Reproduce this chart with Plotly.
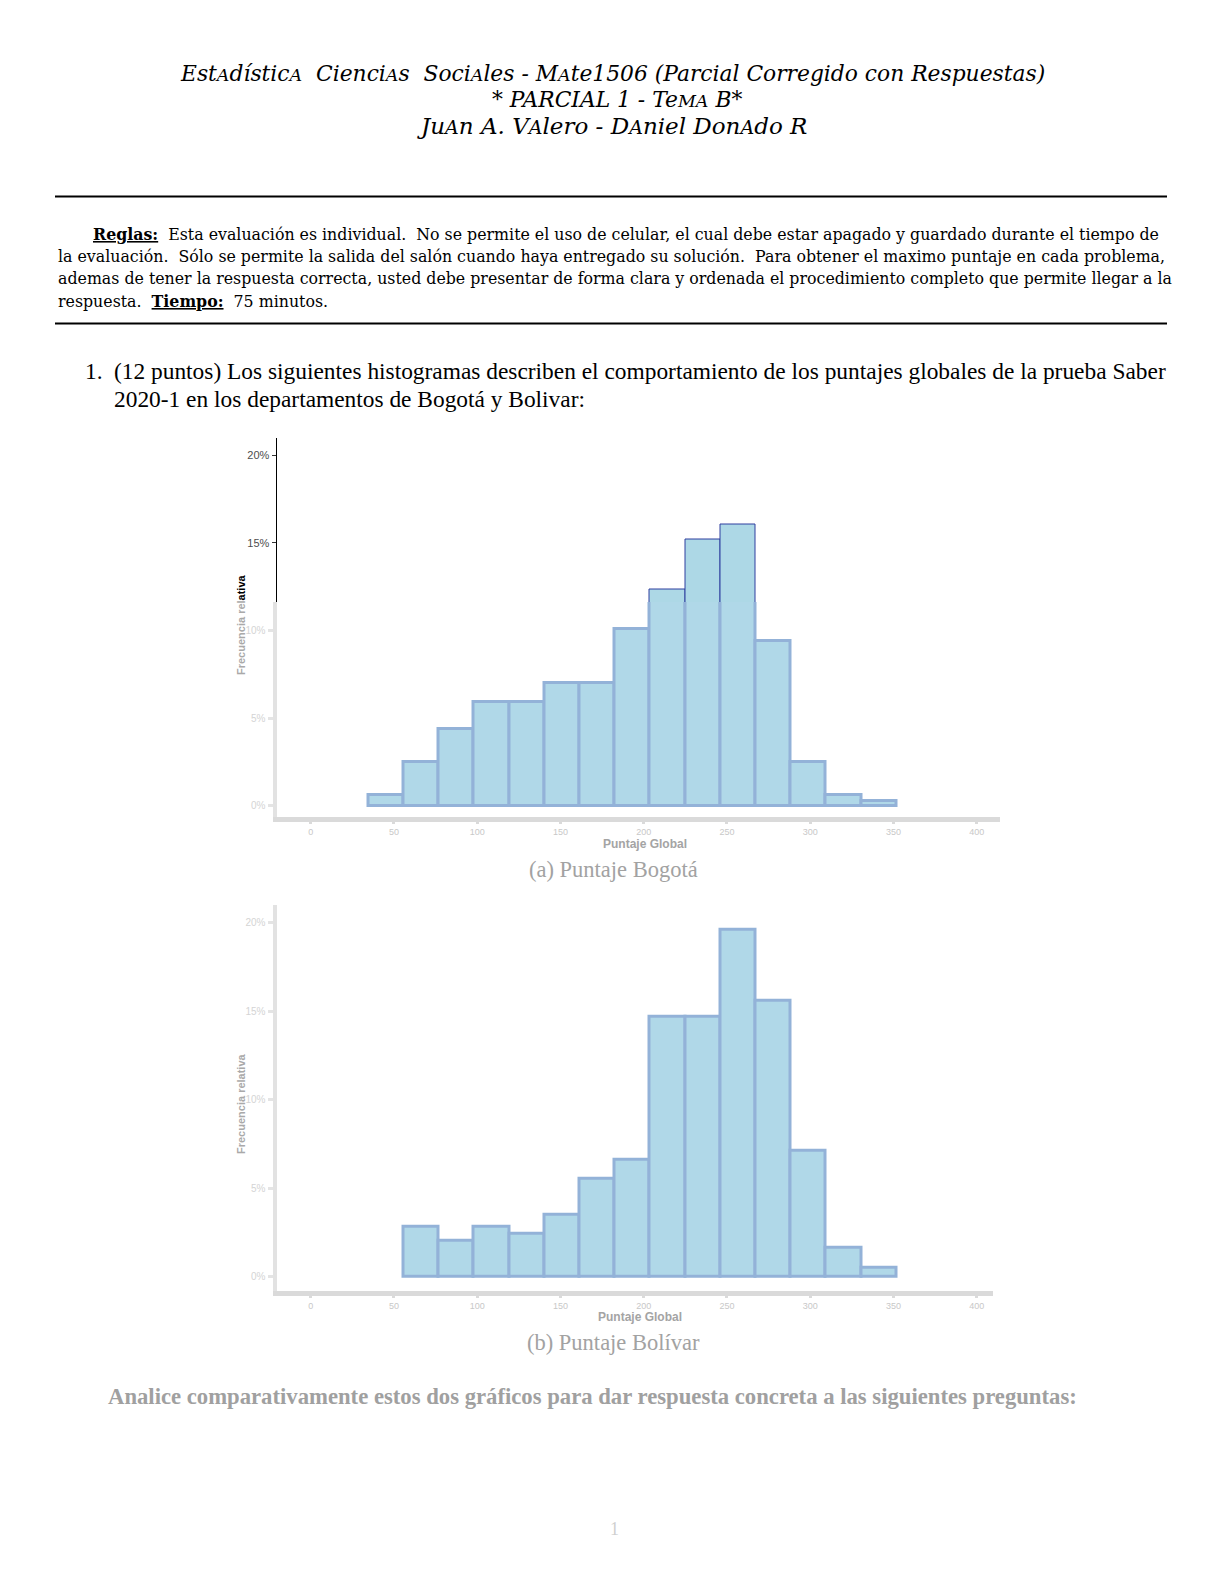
import plotly.graph_objects as go

# The page has an 8px body margin, so the figure is drawn 16px smaller
# and page coordinates are shifted by 8px.
PAGE_OFF = 8
W, H = 1224 - 2 * PAGE_OFF, 1584 - 2 * PAGE_OFF


def px(x):
    return (x - PAGE_OFF) / W


def py(y):
    return 1 - (y - PAGE_OFF) / H


# ---------------- data ----------------
bin_left = [34.6, 55.7, 76.9, 98.0, 119.2, 140.3, 161.4, 182.6,
            203.7, 224.9, 246.0, 267.1, 288.3, 309.4, 330.6]
bin_width = 21.14
pct_bogota = [0.6, 2.5, 4.4, 5.9, 5.9, 7.0, 7.0, 10.1,
              12.35, 15.2, 16.05, 9.4, 2.5, 0.6, 0.3]
pct_bolivar = [None, 2.8, 2.0, 2.8, 2.4, 3.5, 5.5, 6.6,
               14.7, 14.7, 19.6, 15.6, 7.1, 1.6, 0.5]
x_ticks = [0, 50, 100, 150, 200, 250, 300, 350, 400]
y_ticks = [0, 5, 10, 15, 20]
y_tick_text = [f"{v}%" for v in y_ticks]

centers = [l + bin_width / 2 for l in bin_left]

# ---------------- layout geometry (pixels of the page) ----------------
X_LEFT, X_RIGHT, X_RIGHT2 = 276.5, 1000, 993
X_RANGE = [-20.5, 414.0]
X_RANGE2 = [-20.5, 409.8]
# chart 1: 0% at 805.8 px, 17.54 px per percent
C1_TOP, C1_SPLIT, C1_BOT = 437.5, 602, 817
C1_ZERO, C1_SCALE = 805.8, 17.54
c1_hi = (C1_ZERO - C1_TOP) / C1_SCALE
c1_split = (C1_ZERO - C1_SPLIT) / C1_SCALE
c1_lo = (C1_ZERO - C1_BOT) / C1_SCALE
# chart 2: 0% at 1276.5 px, 17.7 px per percent
C2_TOP, C2_BOT = 904.8, 1291
C2_ZERO, C2_SCALE = 1276.5, 17.7
c2_hi = (C2_ZERO - C2_TOP) / C2_SCALE
c2_lo = (C2_ZERO - C2_BOT) / C2_SCALE

FILL = "#b0d8e8"
BLUR_LINE = "#93b2d8"
CRISP_LINE = "#2f3f9f"
BLUR_AXIS = "#dadada"
BLUR_TICKTXT = "#c8c8c8"

fig = go.Figure()

# Bogotá - lower (blurred look)
fig.add_trace(go.Bar(x=centers, y=pct_bogota, width=bin_width,
                     marker=dict(color=FILL, line=dict(color=BLUR_LINE, width=3)),
                     xaxis="x", yaxis="y", hoverinfo="skip"))
# Bogotá - upper (crisp part)
fig.add_trace(go.Bar(x=centers, y=pct_bogota, width=bin_width,
                     marker=dict(color="#add8e6", line=dict(color=CRISP_LINE, width=1)),
                     xaxis="x", yaxis="y3", hoverinfo="skip"))
# Bolívar
fig.add_trace(go.Bar(x=centers, y=pct_bolivar, width=bin_width,
                     marker=dict(color=FILL, line=dict(color=BLUR_LINE, width=3)),
                     xaxis="x2", yaxis="y2", hoverinfo="skip"))

blur_x = dict(tickvals=x_ticks, ticks="outside", ticklen=2,
              tickwidth=3, tickcolor=BLUR_AXIS, showline=True, linecolor=BLUR_AXIS,
              linewidth=5, showgrid=False, zeroline=False,
              tickfont=dict(family="Liberation Sans", size=9, color=BLUR_TICKTXT))
blur_y = dict(ticks="outside", ticklen=5, tickwidth=3, tickcolor="#e4e4e4",
              showline=True, linecolor="#e2e2e2", linewidth=4, showgrid=False,
              zeroline=False,
              tickfont=dict(family="Liberation Sans", size=10, color="#d4d4d4"))

fig.update_layout(
    width=W, height=H, margin=dict(l=0, r=0, t=0, b=0),
    paper_bgcolor="white", plot_bgcolor="white", showlegend=False,
    bargap=0,
    xaxis=dict(domain=[px(X_LEFT), px(X_RIGHT)], range=X_RANGE, anchor="y", **blur_x),
    yaxis=dict(domain=[py(C1_BOT), py(C1_SPLIT)], range=[c1_lo, c1_split], anchor="x",
               tickvals=y_ticks[:3], ticktext=y_tick_text[:3], **blur_y),
    yaxis3=dict(domain=[py(C1_SPLIT), py(C1_TOP)], range=[c1_split, c1_hi], anchor="x",
                tickvals=y_ticks[3:], ticktext=y_tick_text[3:], ticks="outside",
                ticklen=4, tickwidth=1, tickcolor="#333333", showline=True,
                linecolor="black", linewidth=1, showgrid=False, zeroline=False,
                tickfont=dict(family="Liberation Sans", size=11, color="#4d4d4d")),
    xaxis2=dict(domain=[px(X_LEFT), px(X_RIGHT2)], range=X_RANGE2, anchor="y2", **blur_x),
    yaxis2=dict(domain=[py(C2_BOT), py(C2_TOP)], range=[c2_lo, c2_hi], anchor="x2",
                tickvals=y_ticks, ticktext=y_tick_text, **blur_y),
)

ann = []


def text(x, y, s, size, family="Liberation Serif", color="black", xanchor="center", angle=0):
    ann.append(dict(x=px(x), y=py(y), xref="paper", yref="paper", text=s,
                    showarrow=False, xanchor=xanchor, yanchor="middle", textangle=angle,
                    font=dict(family=family, size=size, color=color)))


def sc(s, size=17.5):
    return f"<span style='font-size:{size}px'>{s}</span>"


# header
HF = "DejaVu Serif"
text(612, 73, f"<i>Est{sc('A')}dístic{sc('A')}  Cienci{sc('A')}s  Soci{sc('A')}les - M{sc('A')}te1506 (Parcial Corregido con Respuestas)</i>", 21.8, HF)
text(617, 99, f"<i>* PARCIAL 1 - Te{sc('MA')} B*</i>", 21.8, HF)
text(612, 126, f"<i>Ju{sc('A', 19)}n A. V{sc('A', 19)}lero - D{sc('A', 19)}niel Don{sc('A', 19)}do R</i>", 23, HF)

# rules block
RF = "DejaVu Serif"
RS = 15.8
text(91, 234.5, "<b><span style='text-decoration:underline'>Reglas:</span></b>  Esta evaluación es individual.  No se permite el uso de celular, el cual debe estar apagado y guardado durante el tiempo de", RS, RF, xanchor="left")
text(56, 256.5, "la evaluación.  Sólo se permite la salida del salón cuando haya entregado su solución.  Para obtener el maximo puntaje en cada problema,", RS, RF, xanchor="left")
text(56, 278.5, "ademas de tener la respuesta correcta, usted debe presentar de forma clara y ordenada el procedimiento completo que permite llegar a la", RS, RF, xanchor="left")
text(56, 301.5, "respuesta.  <b><span style='text-decoration:underline'>Tiempo:</span></b>  75 minutos.", RS, RF, xanchor="left")

# question
QF = "Liberation Serif"
QS = 23.4
text(83, 371, "1.", QS, QF, xanchor="left")
text(112, 371, "(12 puntos) Los siguientes histogramas describen el comportamiento de los puntajes globales de la prueba Saber", QS, QF, xanchor="left")
text(112, 399, "2020-1 en los departamentos de Bogotá y Bolivar:", QS, QF, xanchor="left")

# chart texts
text(241, 625, "<b><span style='color:#a9a9a9'>Frecuencia rel</span>ativa</b>", 11, "Liberation Sans", angle=-90)
text(241, 1104, "<b>Frecuencia relativa</b>", 11, "Liberation Sans", color="#a9a9a9", angle=-90)
text(645, 844, "<b>Puntaje Global</b>", 12, "Liberation Sans", color="#a4a4a4")
text(640, 1317, "<b>Puntaje Global</b>", 12, "Liberation Sans", color="#a4a4a4")
text(613, 869, "(a) Puntaje Bogotá", 22.5, "Liberation Serif", color="#a2a2a2")
text(613, 1342, "(b) Puntaje Bolívar", 22.5, "Liberation Serif", color="#a2a2a2")

# bottom line and page number
text(592, 1396, "<b>Analice comparativamente estos dos gráficos para dar respuesta concreta a las siguientes preguntas:</b>", 22.7, "Liberation Serif", color="#a0a0a0")
text(614, 1529, "1", 18, "Liberation Serif", color="#cfcfcf")

fig.update_layout(annotations=ann)

# horizontal rules of the page
for yy in (196.5, 323.5):
    fig.add_shape(type="line", xref="paper", yref="paper", x0=px(55), x1=px(1167),
                  y0=py(yy), y1=py(yy), line=dict(color="black", width=2))

fig.write_html("out.html", config={"displayModeBar": False})
